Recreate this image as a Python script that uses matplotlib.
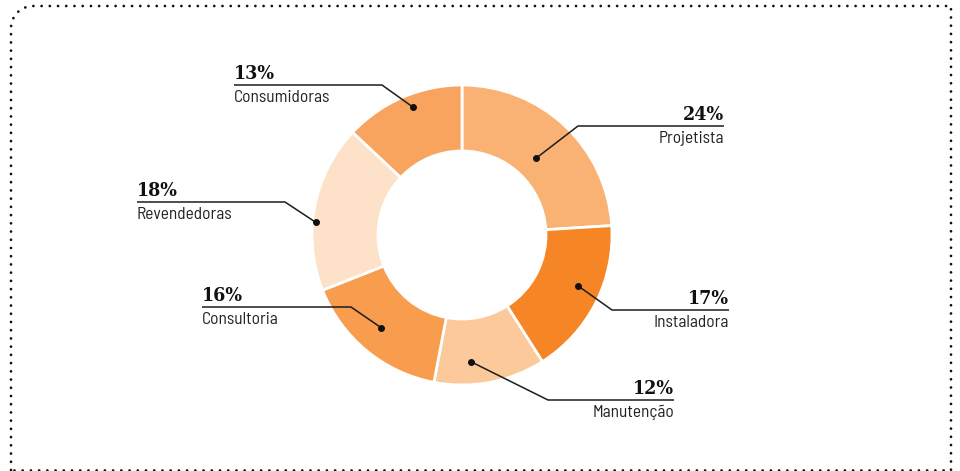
import numpy as np
import matplotlib
matplotlib.use("Agg")
import matplotlib.pyplot as plt
from matplotlib import font_manager as fm

# dados
categorias = ["Projetista", "Instaladora", "Manutenção", "Consultoria", "Revendedoras", "Consumidoras"]
valores = [24, 17, 12, 16, 18, 13]
cores = ["#F9B174", "#F58525", "#FCC99B", "#F89C4D", "#FDE2C9", "#F8A35E"]

# layout dos rótulos (pixels, y de cima para baixo)
raio_ponto = [107, 127, 127, 123, 147, 137]
desvio_ang = [0.8, -3.3, 6.8, 1.4, -5.8, 2.4]
cotovelo = [(578, 126), (612, 310), (548, 400), (351, 307), (285, 202), (382, 85)]
fim_x = [724, 729, 674, 202, 137, 234]

W, H = 960, 471

instaladas = {f.name for f in fm.fontManager.ttflist}
if "Barlow Semi Condensed" in instaladas:
    txt_kw = dict(family=["Barlow Semi Condensed", "DejaVu Sans"], fontsize=12.5)
else:
    txt_kw = dict(family=["DejaVu Sans"], fontstretch="condensed", fontsize=11)
num_kw = dict(family=["DejaVu Serif"], fontstretch="condensed", fontweight="bold", fontsize=14)

fig = plt.figure(figsize=(W / 100, H / 100), dpi=100)
ax = fig.add_axes([0, 0, 1, 1])

wedges, _ = ax.pie(valores, colors=cores, startangle=-90, counterclock=True,
                   radius=150, center=(462, 235),
                   wedgeprops=dict(width=66, edgecolor="white", linewidth=2))

ax.set_xlim(0, W)
ax.set_ylim(H, 0)
ax.set_aspect("equal")
ax.axis("off")

for i, w in enumerate(wedges):
    ang = np.deg2rad((w.theta1 + w.theta2) / 2 + desvio_ang[i])
    cx, cy = w.center
    px = cx + raio_ponto[i] * np.cos(ang)
    py = cy + raio_ponto[i] * np.sin(ang)
    ex, ey = cotovelo[i]
    ax.plot([px, ex, fim_x[i]], [py, ey, ey], color="#1c1c1c", lw=1.1,
            solid_capstyle="butt")
    ax.plot(px, py, "o", color="#111111", ms=4)
    ha = "right" if fim_x[i] > ex else "left"
    ax.text(fim_x[i], ey - 6, f"{valores[i]}%", ha=ha, va="baseline",
            color="#111111", **num_kw)
    ax.text(fim_x[i], ey + 5, categorias[i], ha=ha, va="top",
            color="#222222", **txt_kw)

# moldura pontilhada com canto superior esquerdo arredondado
t = np.linspace(np.pi, 1.5 * np.pi, 12)
bx = np.concatenate([[11], 33 + 22 * np.cos(t), [951, 951, 11, 11]])
by = np.concatenate([[470], 28 + 22 * np.sin(t), [6, 470.5, 470.5, 470]])
ax.plot(bx, by, color="#111111", lw=2, linestyle=(0, (0.01, 2.95)),
        dash_capstyle="round", clip_on=False)

fig.savefig("out.png", dpi=100)
